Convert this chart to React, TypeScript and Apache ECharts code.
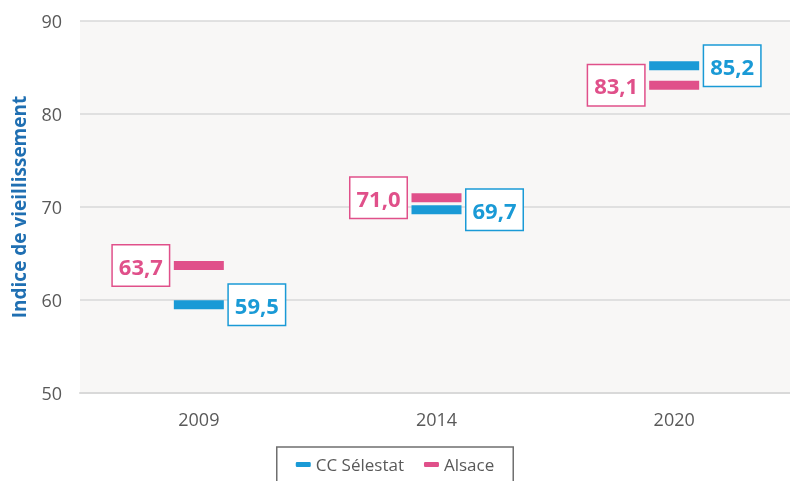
import React, { useEffect, useRef } from "react";
import * as echarts from "echarts";

const categories = ["2009", "2014", "2020"];
const ccSelestat = [59.5, 69.7, 85.2];
const alsace = [63.7, 71.0, 83.1];
const seriesNames = ["CC Sélestat", "Alsace"];
const yTicks = { min: 50, max: 90, interval: 10 };

const BLUE = "#1a9ad6";
const PINK = "#e0508a";

const fmt = (v: number) => v.toFixed(1).replace(".", ",");

export default function App() {
  const ref = useRef<HTMLDivElement>(null);
  useEffect(() => {
    if (!ref.current) return;
    const chart = echarts.init(ref.current, null, { renderer: "svg" });
    const labelStyle = (color: string, position: "left" | "right") => ({
      show: true,
      position,
      distance: 5,
      formatter: (p: any) => fmt(p.value),
      color,
      fontFamily: "Open Sans",
      fontWeight: "bold" as const,
      fontSize: 22,
      lineHeight: 27,
      backgroundColor: "#ffffff",
      borderColor: color,
      borderWidth: 1.5,
      padding: [7, 6, 6, 6],
    });
    chart.setOption({
      animation: false,
      textStyle: { fontFamily: "Open Sans" },
      grid: {
        left: 80,
        right: -3,
        top: 21,
        bottom: 88,
        outerBoundsMode: "none",
        containLabel: false,
        show: true,
        backgroundColor: "#f8f7f6",
        borderWidth: 0,
      },
      legend: {
        data: seriesNames,
        top: 447,
        left: "center",
        padding: [9, 19, 14, 19],
        itemGap: 20,
        itemWidth: 15,
        itemHeight: 5,
        icon: "roundRect",
        borderColor: "#6f6f6f",
        borderWidth: 1.5,
        textStyle: { fontSize: 17, color: "#595959", fontFamily: "Open Sans" },
      },
      xAxis: {
        type: "category",
        data: categories,
        axisTick: { show: false },
        axisLine: { lineStyle: { color: "#d9d9d9", width: 2 } },
        axisLabel: { color: "#595959", fontSize: 18, margin: 17 },
      },
      yAxis: {
        type: "value",
        min: yTicks.min,
        max: yTicks.max,
        interval: yTicks.interval,
        name: "Indice de vieillissement",
        nameLocation: "middle",
        nameGap: 52,
        nameTextStyle: {
          color: "#1f6fb2",
          fontWeight: "bold",
          fontSize: 19,
          fontFamily: "Open Sans",
        },
        axisLine: { show: false },
        axisTick: { show: false },
        axisLabel: { color: "#595959", fontSize: 18, margin: 18 },
        splitLine: { lineStyle: { color: "#d9d9d9", width: 1.5 } },
      },
      series: [
        {
          name: seriesNames[0],
          type: "scatter",
          data: ccSelestat,
          symbol: "rect",
          symbolSize: [50, 9],
          itemStyle: { color: BLUE, opacity: 1 },
          label: labelStyle(BLUE, "right"),
          z: 3,
        },
        {
          name: seriesNames[1],
          type: "scatter",
          data: alsace,
          symbol: "rect",
          symbolSize: [50, 9],
          itemStyle: { color: PINK, opacity: 1 },
          label: labelStyle(PINK, "left"),
          z: 3,
        },
      ],
    });
    return () => chart.dispose();
  }, []);
  return <div ref={ref} style={{ width: 790, height: 481, position: "fixed", left: 0, top: 0 }} />;
}
